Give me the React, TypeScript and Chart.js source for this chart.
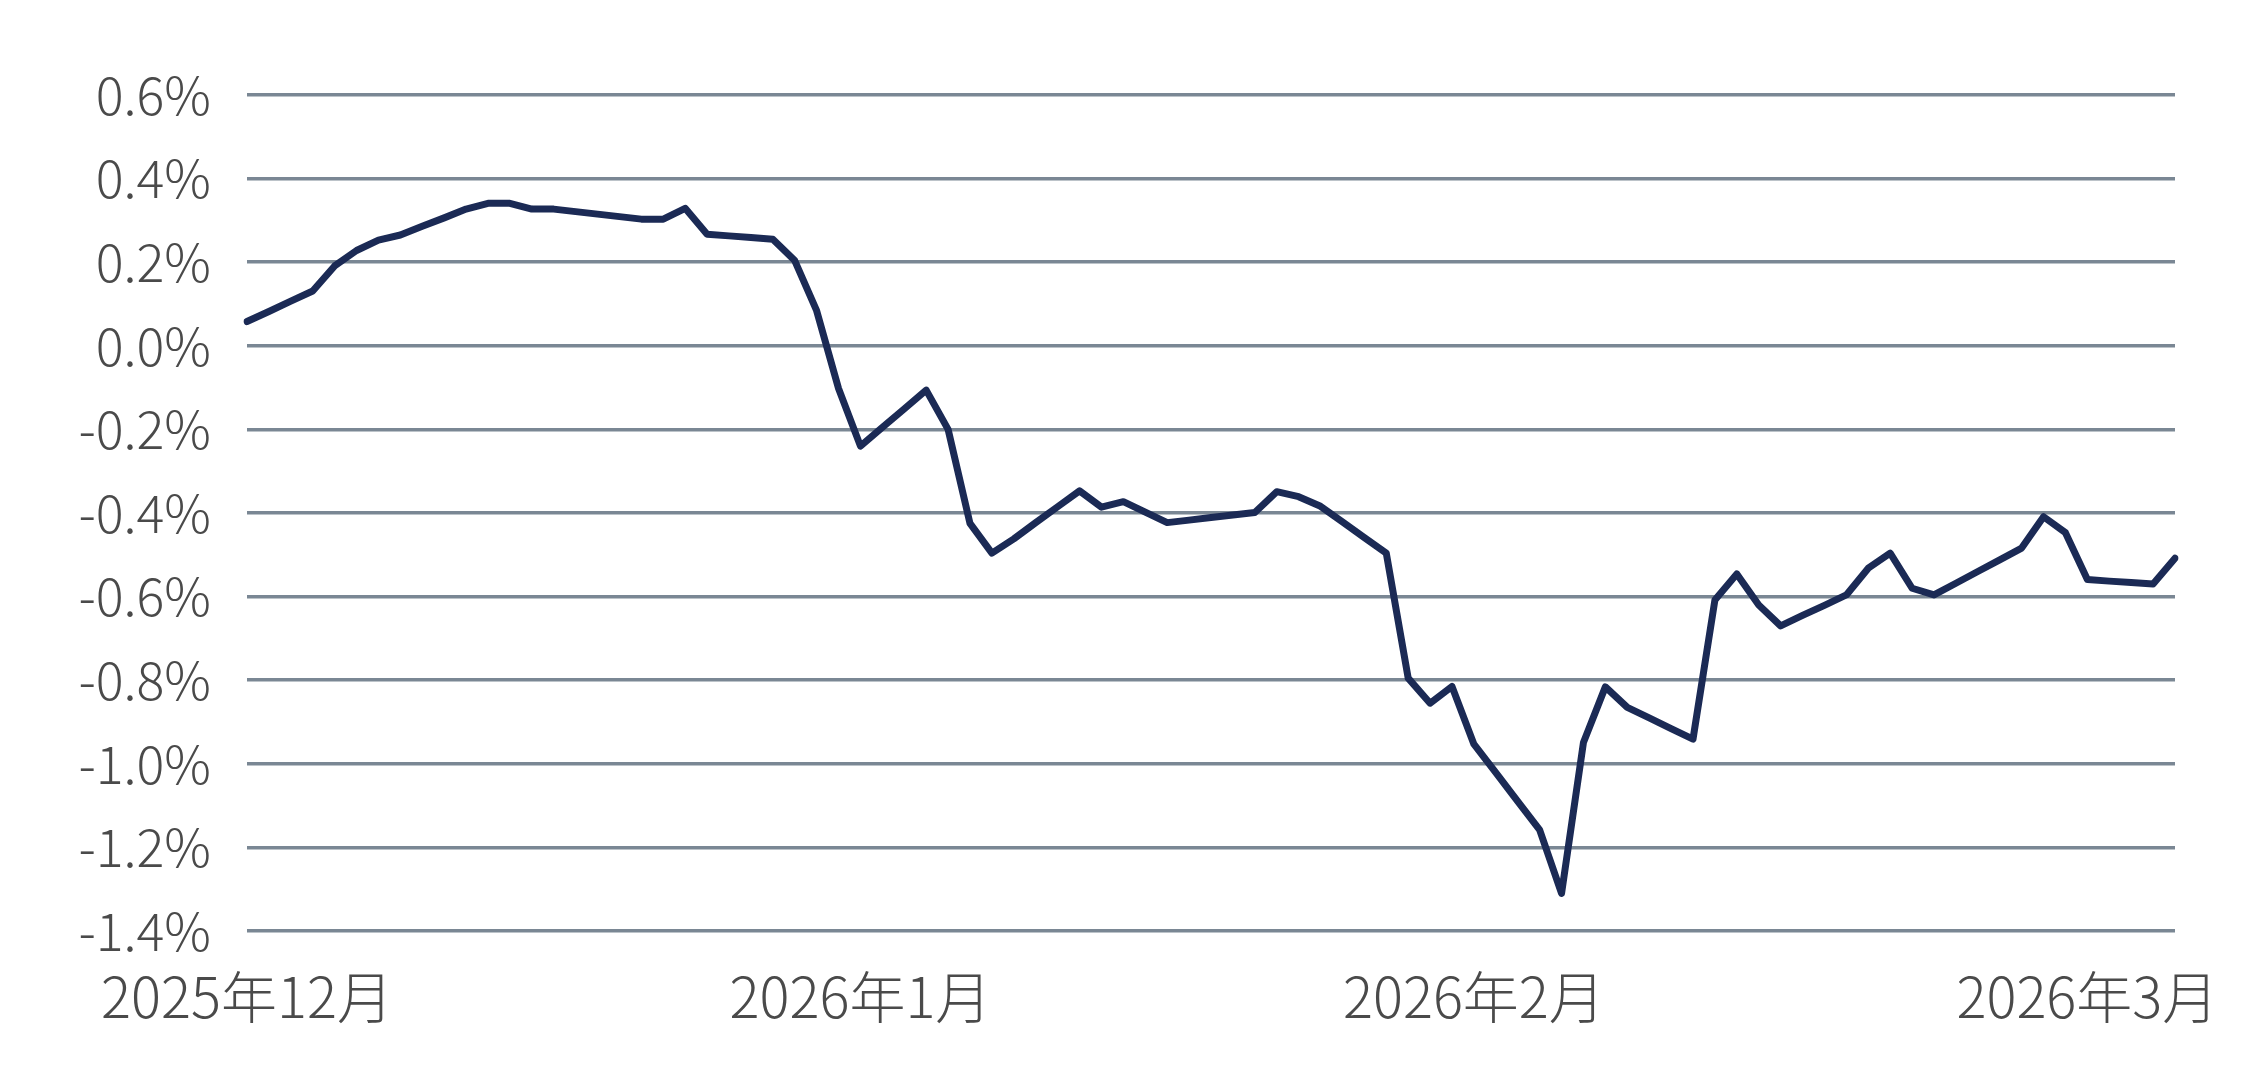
import React, { useEffect, useRef } from "react";
import { Chart, registerables } from "chart.js";

Chart.register(...registerables);

// Daily series values (%)
const seriesValues: number[] = [
  0.058, 0.082, 0.107, 0.131, 0.191, 0.228, 0.253, 0.265, 0.286, 0.306,
  0.327, 0.341, 0.341, 0.327, 0.327, 0.321, 0.315, 0.309, 0.303, 0.303,
  0.329, 0.267, 0.263, 0.259, 0.255, 0.204, 0.084, -0.102, -0.24, -0.195,
  -0.151, -0.106, -0.2, -0.425, -0.496, -0.462, -0.423, -0.385, -0.347, -0.386,
  -0.373, -0.398, -0.423, -0.417, -0.411, -0.405, -0.399, -0.349, -0.361, -0.384,
  -0.421, -0.459, -0.496, -0.795, -0.855, -0.815, -0.953, -1.021, -1.09, -1.158,
  -1.31, -0.949, -0.816, -0.865, -0.89, -0.916, -0.941, -0.608, -0.546, -0.62,
  -0.67, -0.645, -0.621, -0.596, -0.532, -0.496, -0.58, -0.596, -0.568, -0.54,
  -0.512, -0.484, -0.409, -0.447, -0.559, -0.563, -0.566, -0.57, -0.508,
];

// X tick labels and the category positions where they appear
const tickLabels: string[] = ["2025年12月", "2026年1月", "2026年2月", "2026年3月"];
const tickIndices: number[] = [0, 28, 56, 84];

// Y axis range
const yMin = -1.4;
const yMax = 0.6;
const yStep = 0.2;

const categories: string[] = seriesValues.map((_, i) => {
  const k = tickIndices.indexOf(i);
  return k >= 0 ? tickLabels[k] : "";
});

const FONT = "'Noto Sans CJK JP', 'Noto Sans', sans-serif";

export default function App() {
  const canvasRef = useRef<HTMLCanvasElement | null>(null);

  useEffect(() => {
    document.body.style.margin = "0";
    const canvas = canvasRef.current;
    if (!canvas) return;
    const chart = new Chart(canvas, {
      type: "line",
      data: {
        labels: categories,
        datasets: [
          {
            data: seriesValues,
            borderColor: "#1b2a55",
            borderWidth: 7,
            pointRadius: 0,
            pointHoverRadius: 0,
            tension: 0,
            fill: false,
            borderCapStyle: "round",
            borderJoinStyle: "round",
          },
        ],
      },
      options: {
        animation: false,
        responsive: true,
        maintainAspectRatio: false,
        layout: { padding: { top: 95, right: 67, left: 0, bottom: 0 } },
        plugins: {
          legend: { display: false },
          tooltip: { enabled: false },
        },
        scales: {
          x: {
            type: "category",
            offset: false,
            grid: { display: false, drawTicks: false },
            border: { display: false },
            ticks: {
              autoSkip: false,
              maxRotation: 0,
              minRotation: 0,
              padding: 32,
              color: "#4a4a4a",
              font: { family: FONT, size: 56, weight: "300" },
            },
            afterFit: (scale: any) => {
              scale.height = 161;
            },
          },
          y: {
            min: yMin,
            max: yMax,
            grid: { color: "#7a8794", lineWidth: 3.5, drawTicks: false },
            border: { display: false },
            ticks: {
              stepSize: yStep,
              padding: 36,
              color: "#4a4a4a",
              font: { family: FONT, size: 52, weight: "300" },
              callback: (v: any) => {
                const n = Math.abs(Number(v)) < 1e-9 ? 0 : Number(v);
                return n.toFixed(1) + "%";
              },
            },
            afterFit: (scale: any) => {
              scale.width = 247;
            },
          },
        },
      },
    });
    return () => chart.destroy();
  }, []);

  return (
    <div style={{ position: "relative", width: "2242px", height: "1092px" }}>
      <canvas ref={canvasRef} />
    </div>
  );
}
